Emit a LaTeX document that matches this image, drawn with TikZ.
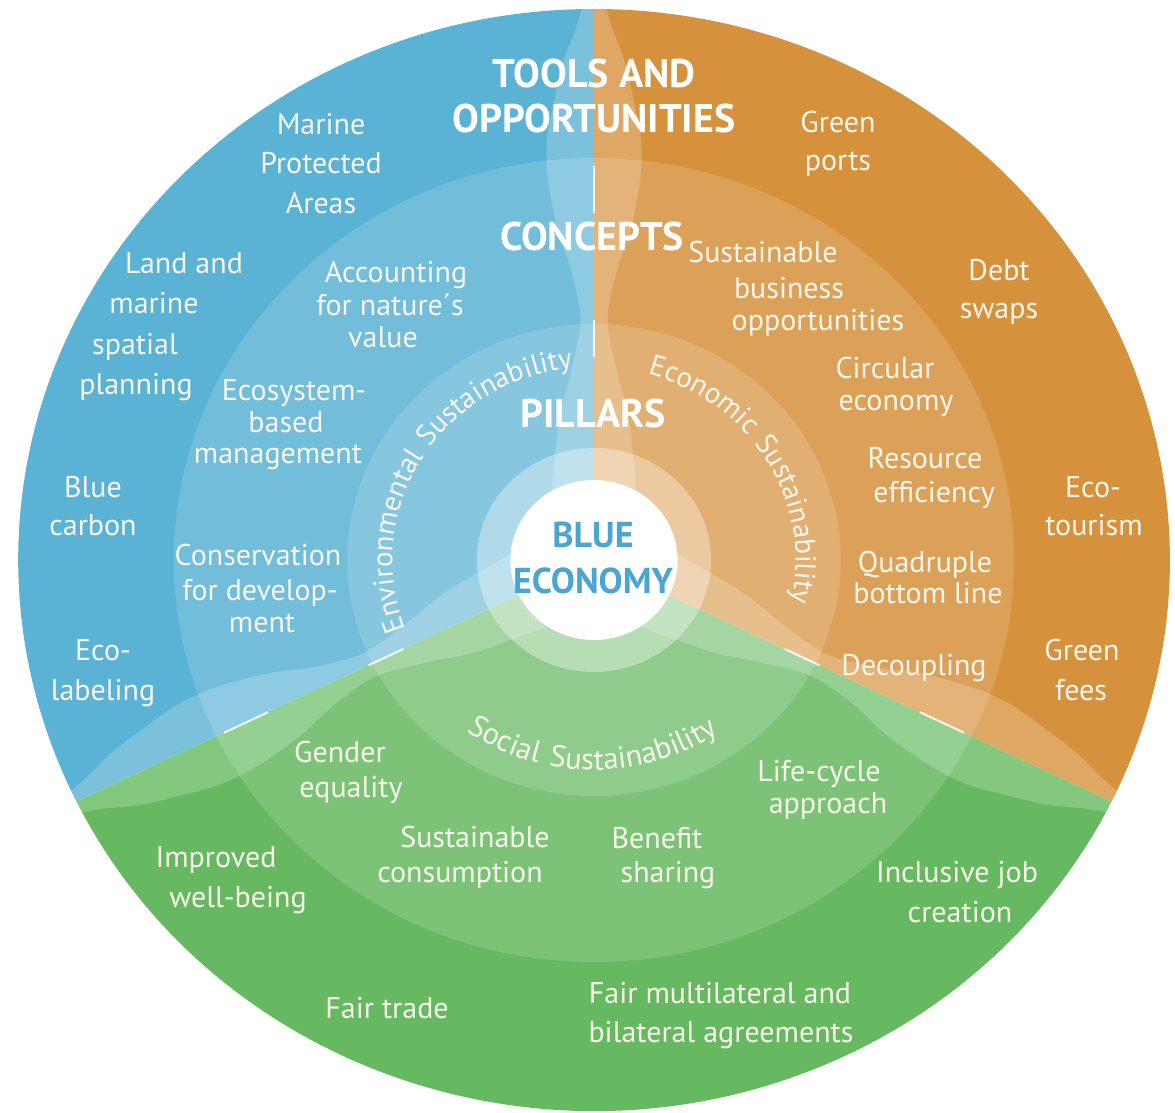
\documentclass[tikz,border=0pt]{standalone}
\usepackage{fontspec}
\setmainfont{PT Sans}
\newfontfamily\spacedsans[LetterSpace=7]{PT Sans}
\newfontfamily\widesans[LetterSpace=9]{PT Sans}
\usetikzlibrary{decorations.text}
\definecolor{seablue}{HTML}{5AB2D4}
\definecolor{sandorange}{HTML}{D6913D}
\definecolor{leafgreen}{HTML}{66B960}
\definecolor{labeltext}{HTML}{F8F6EC}
\definecolor{coreblue}{HTML}{4BA5D2}
\newcommand\pillarfont{\spacedsans\fontsize{29}{34}\selectfont\color{labeltext}}
\newcommand\socialfont{\widesans\fontsize{30.5}{34}\selectfont\color{labeltext}}
\begin{document}
\begin{tikzpicture}[x=1pt,y=-1pt,
  lbl/.style={anchor=base, text=labeltext, font=\fontsize{30}{36}\selectfont, inner sep=0pt},
  hdr/.style={anchor=base, text=white, font=\bfseries\fontsize{40}{44}\selectfont, inner sep=0pt},
  core/.style={anchor=base, text=coreblue, font=\bfseries\fontsize{36}{40}\selectfont, inner sep=0pt},
  ringfill/.style={fill=white, fill opacity=0.15},
  band/.style={fill=white, fill opacity=0.2},
  seam/.style={draw=white, line width=2pt, draw opacity=0.85}]
\useasboundingbox (0,0) rectangle (1175,1113);
\fill[white] (0,0) rectangle (1175,1113);
\begin{scope}[shift={(594,560)}, y=1pt, xscale=1.045]
  \coordinate (c) at (0,0);
  \fill[seablue] (c) -- (90:551) arc[start angle=90,end angle=206,radius=551] -- cycle;
  \fill[leafgreen] (c) -- (206:551) arc[start angle=206,end angle=334,radius=551] -- cycle;
  \fill[sandorange] (c) -- (-26:551) arc[start angle=-26,end angle=90,radius=551] -- cycle;
  \fill[ringfill] (c) circle (402);
  \fill[ringfill] (c) circle (236);
  \begin{scope}
    \clip (c) circle (551);
    \foreach \a in {90,206,334} {
      \fill[band, rotate=\a] plot[smooth cycle, tension=0.55] coordinates {
        (30,0) (45,38) (118,36) (153,31) (188,22) (240,13) (290,22) (330,35) (380,44) (420,45)
        (460,38) (500,29) (530,18) (575,4)
        (575,-4) (530,-18) (500,-29) (460,-38) (420,-45) (380,-44) (330,-35) (290,-22) (240,-13)
        (188,-22) (153,-31) (118,-36) (45,-38)};
    }
  \end{scope}
  \foreach \a in {90,206,334} {
    \draw[seam] (\a:203) -- (\a:240);
    \draw[seam] (\a:347) -- (\a:394);
  }
  \fill[white, fill opacity=0.35] (c) circle (112);
  \fill[white] (c) circle (80);
  \path[decorate, decoration={text along path, text align=center,
      text={|\pillarfont|Environmental Sustainability}}]
      (200:193) arc[start angle=200, end angle=97, radius=193];
  \path[decorate, decoration={text along path, text align=center,
      text={|\pillarfont|Economic Sustainability}}]
      (74:193) arc[start angle=74, end angle=-12, radius=193];
  \path[decorate, decoration={text along path, text align=center,
      text={|\socialfont|Social Sustainability}}]
      (229:210) arc[start angle=229, end angle=310, radius=210];
\end{scope}

\node[hdr] (tools1) at (594,88) {TOOLS AND};
\node[hdr] (tools2) at (594,132) {OPPORTUNITIES};
\node[hdr] (concepts) at (592,250) {CONCEPTS};
\node[hdr] (pillars) at (593,427) {PILLARS};
\node[core] (core1) at (593,547) {BLUE};
\node[core] (core2) at (593,593) {ECONOMY};

\node[lbl] (mpa1) at (321,135) {Marine};
\node[lbl] (mpa2) at (321,173) {Protected};
\node[lbl] (mpa3) at (321,213) {Areas};
\node[lbl] (lm1) at (184,273) {Land and};
\node[lbl] (lm2) at (154,313) {marine};
\node[lbl] (lm3) at (135,354) {spatial};
\node[lbl] (lm4) at (136,394) {planning};
\node[lbl] (bc1) at (93,497) {Blue};
\node[lbl] (bc2) at (93,535) {carbon};
\node[lbl] (el1) at (103,660) {Eco-};
\node[lbl] (el2) at (103,700) {labeling};
\node[lbl] (an1) at (396,282) {Accounting};
\node[lbl] (an2) at (390,315) {for nature´s};
\node[lbl] (an3) at (383,347) {value};
\node[lbl] (eb1) at (294,400) {Ecosystem-};
\node[lbl] (eb2) at (286,432) {based};
\node[lbl] (eb3) at (278,463) {management};
\node[lbl] (cd1) at (258,565) {Conservation};
\node[lbl] (cd2) at (260,600) {for develop-};
\node[lbl] (cd3) at (262,632) {ment};

\node[lbl] (gp1) at (838,133) {Green};
\node[lbl] (gp2) at (838,170) {ports};
\node[lbl] (ds1) at (999,280) {Debt};
\node[lbl] (ds2) at (999,318) {swaps};
\node[lbl] (et1) at (1093,497) {Eco-};
\node[lbl] (et2) at (1094,535) {tourism};
\node[lbl] (gf1) at (1082,660) {Green};
\node[lbl] (gf2) at (1081,700) {fees};
\node[lbl] (sb1) at (763,262) {Sustainable};
\node[lbl] (sb2) at (789,298) {business};
\node[lbl] (sb3) at (818,330) {opportunities};
\node[lbl] (ce1) at (885,378) {Circular};
\node[lbl] (ce2) at (896,410) {economy};
\node[lbl] (re1) at (925,468) {Resource};
\node[lbl] (re2) at (934,502) {efficiency};
\node[lbl] (qb1) at (925,572) {Quadruple};
\node[lbl] (qb2) at (928,603) {bottom line};
\node[lbl] (dc) at (914,675) {Decoupling};

\node[lbl] (ge1) at (340,762) {Gender};
\node[lbl] (ge2) at (351,797) {equality};
\node[lbl] (sc1) at (475,847) {Sustainable};
\node[lbl] (sc2) at (460,882) {consumption};
\node[lbl] (bs1) at (657,848) {Benefit};
\node[lbl] (bs2) at (668,882) {sharing};
\node[lbl] (lc1) at (819,781) {Life-cycle};
\node[lbl] (lc2) at (828,813) {approach};
\node[lbl] (ij1) at (957,882) {Inclusive job};
\node[lbl] (ij2) at (960,922) {creation};
\node[lbl] (iw1) at (216,867) {Improved};
\node[lbl] (iw2) at (238,907) {well-being};
\node[lbl] (ft) at (387,1018) {Fair trade};
\node[lbl] (fm1) at (720,1003) {Fair multilateral and};
\node[lbl] (fm2) at (721,1042) {bilateral agreements};
\end{tikzpicture}
\end{document}
